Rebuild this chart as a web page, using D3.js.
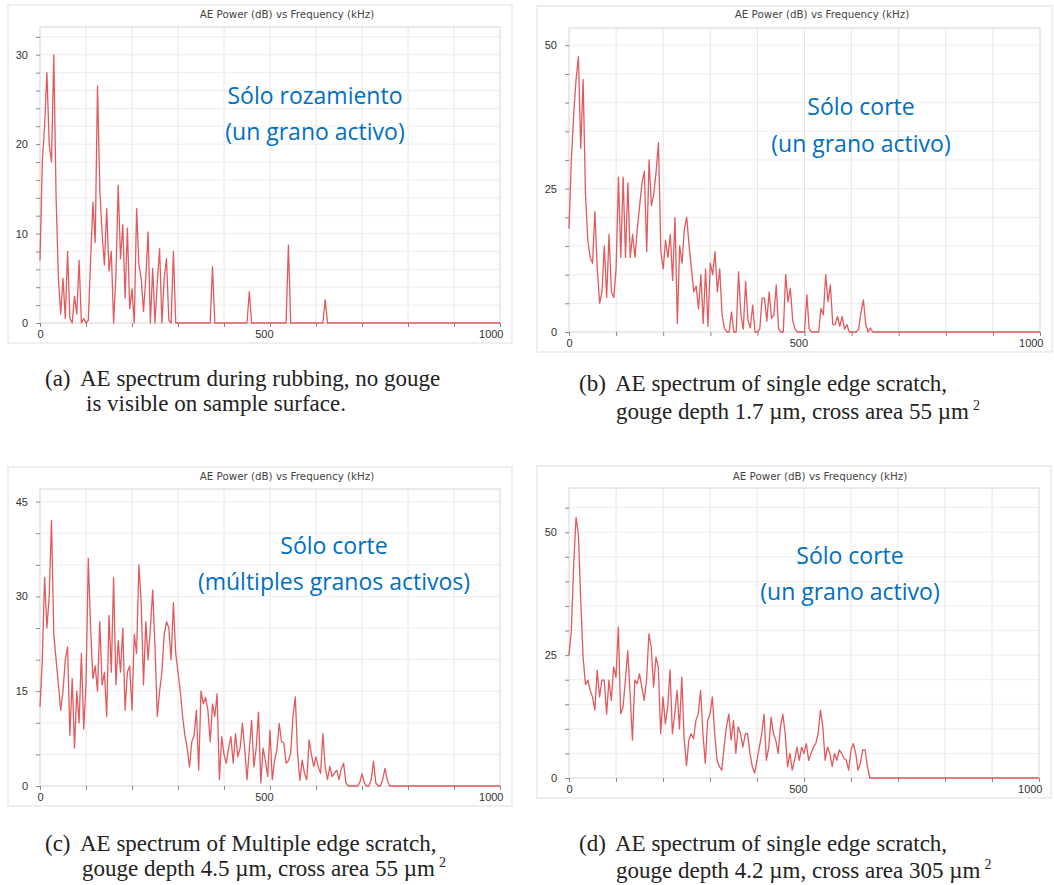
<!DOCTYPE html>
<html>
<head>
<meta charset="utf-8">
<script src="https://cdn.jsdelivr.net/npm/d3@7"></script>
<style>
  body { margin: 0; background: #fff; }
  svg { display: block; }
</style>
</head>
<body>
<svg id="fig" width="1054" height="885"></svg>
<script>
// spectra sampled every 5 kHz from 0, flat at zero after the last value up to 1000 kHz
const freqStep = 5;
const freqMax = 1000;
const xTickValues = [0, 100, 200, 300, 400, 500, 600, 700, 800, 900, 1000];
const xTickLabels = [0, 500, 1000];

const powerA = [
  7, 18, 22, 28, 20, 18, 30, 14, 5, 1,
  5, 0.5, 8, 0.5, 0, 3, 1, 7, 0, 0.5,
  0, 0.3, 7, 13.5, 9, 26.5, 15, 10, 6.5, 12.8,
  5.8, 8, 0, 5.3, 15.4, 7.2, 11, 2.8, 10.6, 1.6,
  3.8, 0, 12.8, 6.5, 5, 1.3, 5, 10.2, 0, 6.1,
  0, 4.6, 8.3, 0, 5, 7.2, 0.3, 0, 8, 0,
  0, 0, 0, 0, 0, 0, 0, 0, 0, 0, 0, 0, 0, 0, 0,
  6.3,
  0, 0, 0, 0, 0, 0, 0, 0, 0, 0, 0, 0, 0, 0, 0,
  3.5,
  0, 0, 0, 0, 0, 0, 0, 0, 0, 0, 0, 0, 0, 0, 0, 0,
  8.7,
  0, 0, 0, 0, 0, 0, 0, 0, 0, 0, 0, 0, 0, 0, 0,
  2.6, 0
];

const powerB = [
  18, 30, 38, 44, 48, 32, 44, 24, 16, 13,
  12, 21, 11, 5, 7, 15, 6, 17, 7, 6,
  11, 27, 13, 27, 13, 26, 13, 17, 13, 18,
  22, 26, 28, 14, 30, 22, 24, 28, 33, 14,
  11, 16, 13, 17, 9, 20, 1.5, 15, 12, 18,
  20, 15, 11, 7, 8, 4, 10, 1.5, 11, 1,
  12, 10, 14, 7, 11, 3, 0.7, 0, 0, 3.5,
  0, 0, 10.5, 3, 0.5, 8.8, 2, 0.7, 4.7, 0,
  0, 0.5, 5.9, 5.9, 1.9, 7, 2.4, 3, 8.2, 0.5,
  0, 0, 10, 5.3, 7.6, 2, 0.5, 0, 0, 0,
  0, 6.5, 0.5, 0, 0, 0, 0, 4.1, 3, 10,
  5.3, 8.2, 1.3, 1.3, 2.7, 1, 2.7, 0.5, 1.3, 0,
  0, 0, 0, 0.5, 3.5, 5.6, 1.3, 0, 0.7, 0
];

const powerC = [
  12.5, 20, 33, 25, 30, 42, 24, 20, 16, 12,
  15, 20, 22, 8, 17, 6, 15, 10, 21, 9,
  16, 36, 25, 17, 19, 15, 26, 16, 18, 11,
  27, 18, 33, 16, 23, 18, 25, 12, 18, 19,
  12, 24, 21, 35, 29, 16, 26, 20, 25, 31,
  22, 11, 15, 18, 24, 26, 25, 20, 29, 21,
  18, 15, 11, 8, 6, 3, 7, 8, 12, 2.5,
  15, 13, 14, 12, 7, 13, 11, 14.6, 1, 7.8,
  5, 3.6, 6, 7.8, 3.6, 8.3, 4.6, 6, 9.9, 6,
  1, 5.7, 10.4, 3, 6, 11.7, 0.5, 6, 4, 1.5,
  8.8, 1, 4, 5.7, 9.9, 7, 6.8, 3.6, 4, 5.2,
  11, 14.1, 5, 0.9, 4.1, 2, 1, 7.3, 5, 3.1,
  4.6, 3, 2, 8.3, 3, 1, 3.1, 1.5, 2, 2.5,
  1, 2.7, 3.6, 0.5, 0, 0, 0, 0, 0, 0.5,
  1.9, 0.5, 0, 0, 1, 3.9, 0.5, 0, 0, 1,
  2.8, 0.9, 0
];

const powerD = [
  25, 30, 43.5, 53, 49.6, 36, 24.6, 19, 19.9, 17.8,
  16.5, 13.8, 21.9, 16.5, 19.9, 19.9, 13, 19.9, 15.8, 22.6,
  20.5, 30.7, 13, 14.5, 19.9, 25.9, 17.2, 7.7, 19.9, 19.2,
  21.2, 18.5, 15.8, 19.9, 29.3, 26.6, 18.5, 24.6, 22.6, 9,
  16.5, 11, 14.5, 22, 9, 13, 17.8, 10, 20.5, 8,
  2.5, 7.7, 9, 8, 11.7, 13, 17.8, 9, 3, 11.7,
  13, 16.5, 9, 3.6, 2.3, 1.6, 6.3, 10.4, 13, 7.7,
  11.7, 5, 10.4, 9, 6.3, 9, 9, 5, 2.3, 1,
  3.6, 6.3, 9, 13, 3.6, 6.3, 12.4, 9, 7.7, 5,
  10.4, 13, 9, 2.3, 5, 1.6, 3.6, 6.3, 3.6, 6.3,
  5, 7, 3.6, 5, 6.3, 7, 9, 13.8, 10.4, 3.6,
  6.3, 5, 2.3, 5, 3.6, 5.7, 5, 4, 3.6, 1.6,
  5.7, 7, 5, 1.6, 3, 5.7, 5.7, 2.3, 0
];

const yLabelsA = [0, 10, 20, 30];
const yLabelsB = [0, 25, 50];
const yLabelsC = [0, 15, 30, 45];
const yLabelsD = [0, 25, 50];

const chartTitle = "AE Power (dB) vs Frequency (kHz)";
const notesA = ["Sólo rozamiento", "(un grano activo)"];
const notesB = ["Sólo corte", "(un grano activo)"];
const notesC = ["Sólo corte", "(múltiples granos activos)"];
const notesD = ["Sólo corte", "(un grano activo)"];

const captionA = ["(a)", "AE spectrum during rubbing, no gouge", "is visible on sample surface.", ""];
const captionB = ["(b)", "AE spectrum of single edge scratch,", "gouge depth 1.7 µm, cross area 55 µm", "2"];
const captionC = ["(c)", "AE spectrum of Multiple edge scratch,", "gouge depth 4.5 µm, cross area 55 µm", "2"];
const captionD = ["(d)", "AE spectrum of single edge scratch,", "gouge depth 4.2 µm, cross area 305 µm", "2"];

const panels = [
  { values: powerA, labels: yLabelsA, notes: notesA, caption: captionA,
    left: 40, right: 500, top: 27, bottom: 323, yMax: 33.1, minor: 2,
    titleX: 287, titleY: 18, noteX: 315, noteY: [104, 140],
    capX: 45, capTextX: [80, 86], capY: [386, 411] },
  { values: powerB, labels: yLabelsB, notes: notesB, caption: captionB,
    left: 569, right: 1040, top: 28, bottom: 332, yMax: 53, minor: 5,
    titleX: 822, titleY: 18, noteX: 861, noteY: [115, 152],
    capX: 579, capTextX: [615, 616], capY: [391, 419] },
  { values: powerC, labels: yLabelsC, notes: notesC, caption: captionC,
    left: 40, right: 500, top: 489, bottom: 786, yMax: 47, minor: 5,
    titleX: 287, titleY: 480, noteX: 334, noteY: [554, 590],
    capX: 45, capTextX: [80, 82], capY: [851, 876] },
  { values: powerD, labels: yLabelsD, notes: notesD, caption: captionD,
    left: 569, right: 1039, top: 488, bottom: 778, yMax: 59, minor: 5,
    titleX: 820, titleY: 480, noteX: 850, noteY: [564, 600],
    capX: 579, capTextX: [615, 616], capY: [851, 878] }
];

const svg = d3.select("#fig");
panels.forEach(drawPanel);

function drawPanel(p) {
  const g = svg.append("g");
  const x = d3.scaleLinear().domain([0, freqMax]).range([p.left, p.right]);
  const y = d3.scaleLinear().domain([0, p.yMax]).range([p.bottom, p.top]);
  const minors = d3.range(0, p.yMax, p.minor);

  // faint frame of the screenshot
  g.append("rect")
    .attr("x", p.left - 32).attr("y", p.top - 22)
    .attr("width", p.right - p.left + 44).attr("height", p.bottom - p.top + 42)
    .attr("fill", "none").attr("stroke", "#efefef").attr("stroke-width", 2);

  g.append("text")
    .attr("x", p.titleX).attr("y", p.titleY)
    .attr("text-anchor", "middle")
    .style("font", "10.3px 'DejaVu Sans', sans-serif")
    .attr("fill", "#444")
    .text(chartTitle);

  // grid
  g.selectAll(".hgrid").data(minors.slice(1)).join("line")
    .attr("x1", p.left).attr("x2", p.right)
    .attr("y1", d => y(d)).attr("y2", d => y(d))
    .attr("stroke", "#eeeeee");
  g.selectAll(".vgrid").data(xTickValues.slice(1, -1)).join("line")
    .attr("x1", d => x(d)).attr("x2", d => x(d))
    .attr("y1", p.top).attr("y2", p.bottom)
    .attr("stroke", "#e6e6e6");
  g.append("rect")
    .attr("x", p.left).attr("y", p.top)
    .attr("width", p.right - p.left).attr("height", p.bottom - p.top)
    .attr("fill", "none").attr("stroke", "#d6d6d6");

  const yAxis = g.append("g")
    .attr("transform", `translate(${p.left},0)`)
    .call(d3.axisLeft(y).tickValues(minors).tickSize(4).tickPadding(8)
      .tickFormat(d => (p.labels.includes(d) ? d : "")));
  const xAxis = g.append("g")
    .attr("transform", `translate(0,${p.bottom})`)
    .call(d3.axisBottom(x).tickValues(xTickValues).tickSize(4).tickPadding(3)
      .tickFormat(d => (xTickLabels.includes(d) ? d : "")));
  [yAxis, xAxis].forEach(a => {
    a.select(".domain").remove();
    a.selectAll(".tick line").attr("stroke", "#888");
    a.selectAll("text")
      .style("font", "11px 'Liberation Sans', Arial, sans-serif")
      .attr("fill", "#333");
  });
  xAxis.selectAll("text").attr("text-anchor", "end").attr("dx", 3);

  const pts = p.values.map((v, i) => [i * freqStep, v]).concat([[freqMax, 0]]);
  g.append("path")
    .datum(pts)
    .attr("fill", "none")
    .attr("stroke", "#e0484c")
    .attr("stroke-opacity", 0.9)
    .attr("stroke-width", 1.3)
    .attr("stroke-linejoin", "round")
    .attr("d", d3.line().x(d => x(d[0])).y(d => y(d[1])));

  g.selectAll(".note").data(p.notes).join("text")
    .attr("x", p.noteX)
    .attr("y", (d, i) => p.noteY[i])
    .attr("text-anchor", "middle")
    .style("font", "23px 'Open Sans', 'Noto Sans', sans-serif")
    .attr("fill", "#0070c0")
    .text(d => d);

  const capFont = "23px 'Liberation Serif', 'Times New Roman', serif";
  g.append("text").attr("x", p.capX).attr("y", p.capY[0])
    .style("font", capFont).attr("fill", "#222").text(p.caption[0]);
  g.append("text").attr("x", p.capTextX[0]).attr("y", p.capY[0])
    .style("font", capFont).attr("fill", "#222").text(p.caption[1]);
  const line2 = g.append("text").attr("x", p.capTextX[1]).attr("y", p.capY[1])
    .style("font", capFont).attr("fill", "#222");
  line2.append("tspan").text(p.caption[2]);
  if (p.caption[3]) {
    line2.append("tspan").attr("dy", -9).attr("dx", 4)
      .style("font-size", "14px").text(p.caption[3]);
  }
}
</script>
</body>
</html>
